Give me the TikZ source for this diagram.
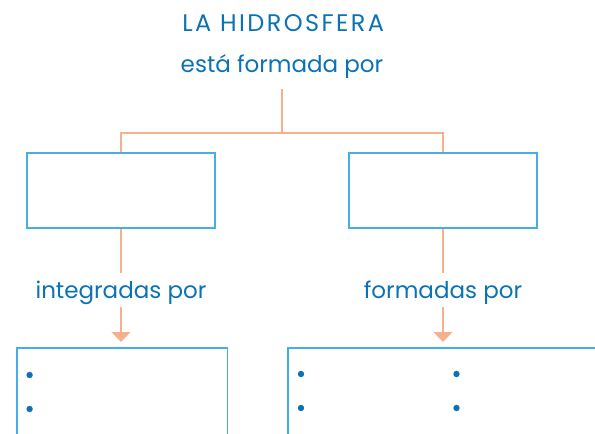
\documentclass[tikz,border=0pt]{standalone}
\usepackage{fontspec}
\setmainfont{Poppins}
\usepackage{xcolor}
\usepackage{tikz}
\usetikzlibrary{arrows.meta,positioning,calc}

\definecolor{txtblue}{HTML}{0B72B5}
\definecolor{boxblue}{HTML}{45AEE3}
\definecolor{peach}{HTML}{F7B08E}

\begin{document}
\begin{tikzpicture}[x=1pt,y=-1pt,
    words/.style={text=txtblue, font=\fontsize{23}{26}\selectfont, inner sep=0pt},
    topbox/.style={draw=boxblue, line width=1.4pt, minimum width=188pt, minimum height=75pt, inner sep=0pt},
    listbox/.style={draw=boxblue, line width=1.5pt, inner sep=0pt},
    link/.style={draw=peach, line width=1.3pt},
    arrow/.style={link, -{Triangle[width=19pt,length=10pt]}, shorten >=5pt}]
\useasboundingbox (0,0) rectangle (595,434);
\clip (0,0) rectangle (595,434);

% Title
\node[words, font=\fontsize{24}{27}\selectfont\addfontfeature{LetterSpace=10}, anchor=base] (title) at (283.2,31.7) {LA HIDROSFERA};
\node[words, anchor=base] (verb) at (282,72.7) {está formada por};

% Split
\coordinate (split) at (282,133);
\node[topbox] (left) at (121,190.5) {};
\node[topbox] (right) at (443,190.5) {};
\draw[link] ([yshift=-10pt]verb.south) -- (split);
\draw[link] (left.north) |- (split) -| (right.north);

% Middle labels
\node[words, anchor=base] (intby) at (121,298) {integradas por};
\node[words, anchor=base] (formby) at (443,298) {formadas por};
\draw[link] (left.south) -- ([yshift=7pt]intby.north);
\draw[link] (right.south) -- ([yshift=7pt]formby.north);

% Lists
\node[listbox, minimum width=210.7pt, minimum height=140pt, anchor=north west] (leftlist) at (16,347) {};
\node[listbox, minimum width=340pt, minimum height=140pt, anchor=north west] (rightlist) at (287,347) {};
\draw[arrow] ([yshift=-3pt]intby.south) -- (leftlist.north -| intby);
\draw[arrow] ([yshift=-3pt]formby.south) -- (rightlist.north -| formby);

\foreach \x/\y in {29.6/375, 29.6/409, 301/374, 301/408, 456.5/374, 456.5/408}
    \fill[txtblue] (\x,\y) circle (3.2pt);
\end{tikzpicture}
\end{document}
